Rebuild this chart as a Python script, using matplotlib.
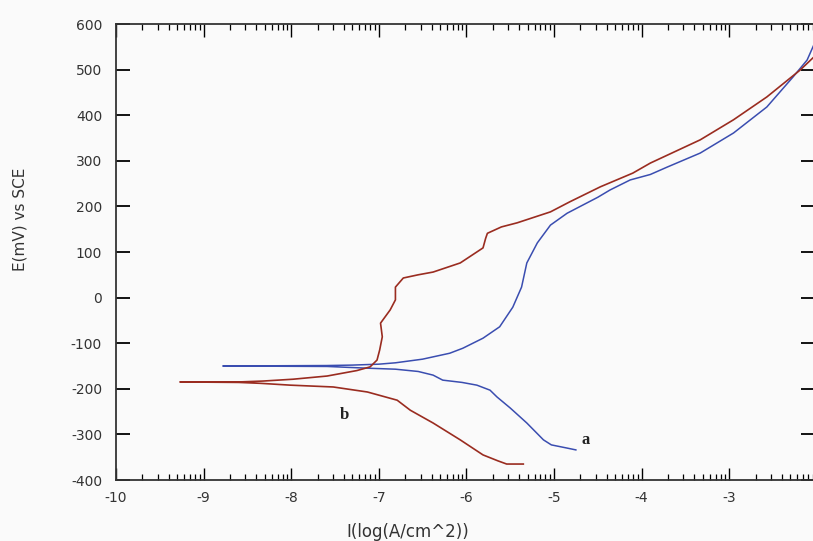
import numpy as np
import matplotlib.pyplot as plt
from matplotlib.ticker import FixedLocator

# -------------------------
# Data
# -------------------------

# curve a (blue): cathodic end -> E_corr spike -> anodic branch
a_x = [-4.75, -4.85, -5.03, -5.12, -5.31, -5.50, -5.65, -5.73, -5.88, -6.05,
       -6.27, -6.38, -6.55, -6.81, -7.10, -7.35, -7.59, -8.78,
       -7.60, -7.30, -7.00, -6.81, -6.50, -6.19, -6.04, -5.81, -5.62, -5.47,
       -5.37, -5.31, -5.19, -5.04, -4.85, -4.67, -4.50, -4.36, -4.13, -3.90,
       -3.71, -3.33, -2.95, -2.57, -2.27, -2.11, -2.02]
a_y = [-334, -330, -323, -312, -275, -242, -218, -203, -192, -186,
       -181, -170, -162, -157, -155, -153, -151, -150,
       -149, -148, -146, -143, -135, -122, -111, -89, -64, -21,
       23, 76, 120, 159, 185, 203, 220, 236, 258, 270,
       286, 317, 361, 418, 484, 521, 560]

# curve b (dark red)
b_x = [-5.35, -5.54, -5.64, -5.81, -6.07, -6.38, -6.64, -6.79, -7.13, -7.52,
       -8.01, -8.35, -8.60, -9.27,
       -8.60, -8.32, -7.98, -7.59, -7.25, -7.10, -7.02, -6.99, -6.96, -6.98,
       -6.87, -6.81, -6.81, -6.72, -6.55, -6.38, -6.07, -5.81, -5.78, -5.76,
       -5.60, -5.42, -5.04, -4.82, -4.47, -4.10, -3.90, -3.33, -2.95, -2.57,
       -2.19, -2.02]
b_y = [-365, -365, -358, -345, -312, -275, -247, -225, -207, -196,
       -192, -188, -186, -185,
       -185, -183, -179, -172, -160, -152, -137, -115, -86, -56,
       -27, -5, 23, 43, 50, 56, 76, 109, 130, 141,
       155, 164, 188, 210, 243, 273, 295, 346, 390, 440,
       499, 530]

x_major = [-10, -9, -8, -7, -6, -5, -4, -3]
y_major = [-400, -300, -200, -100, 0, 100, 200, 300, 400, 500, 600]

# -------------------------
# Plot
# -------------------------

plt.rcParams['font.family'] = ['DejaVu Sans']
plt.rcParams['axes.unicode_minus'] = False

fig = plt.figure(figsize=(8.13, 5.41), dpi=100, facecolor='#fafafa')
ax = fig.add_axes([116 / 813, 61 / 541, (815 - 116) / 813, 456 / 541])
ax.set_facecolor('#fafafa')

ax.plot(a_x, a_y, color='#3a4db0', lw=1.1)
ax.plot(b_x, b_y, color='#9a2c20', lw=1.2)

ax.text(-4.69, -312, 'a', fontsize=12, fontweight='bold',
        family='Liberation Serif', color='#222222', va='center')
ax.text(-7.45, -257, 'b', fontsize=12, fontweight='bold',
        family='Liberation Serif', color='#222222', va='center')

ax.set_xlim(-10, -2.02)
ax.set_ylim(-400, 600)

# log-style minor ticks in each decade
minor = [d + np.log10(k) for d in range(-10, -2) for k in range(2, 10)]
ax.xaxis.set_major_locator(FixedLocator(x_major))
ax.xaxis.set_minor_locator(FixedLocator(minor))
ax.yaxis.set_major_locator(FixedLocator(y_major))

ax.tick_params(axis='x', which='major', direction='in', length=9, width=1.0,
               top=True, bottom=True, labelsize=10, labelcolor='#333333', pad=8)
ax.tick_params(axis='x', which='minor', direction='in', length=4.5, width=0.9,
               top=True, bottom=True)
ax.tick_params(axis='y', which='major', direction='in', length=10, width=1.3,
               left=True, right=True, labelsize=10, labelcolor='#333333', pad=10)

for s in ['left', 'bottom', 'top']:
    ax.spines[s].set_linewidth(1.3)
    ax.spines[s].set_color('#333333')
ax.spines['right'].set_visible(False)

ax.set_xlabel('I(log(A/cm^2))', fontsize=12, color='#333333')
ax.xaxis.set_label_coords((408 - 116) / (815 - 116), -(532 - 480) / 456)
ax.xaxis.label.set_va('center')
ax.set_ylabel('E(mV) vs SCE', fontsize=11, color='#333333')
ax.yaxis.set_label_coords(-(116 - 20) / (815 - 116), (480 - 219) / 456)
ax.yaxis.label.set_va('center')

fig.savefig('out.png', dpi=100, facecolor=fig.get_facecolor())
